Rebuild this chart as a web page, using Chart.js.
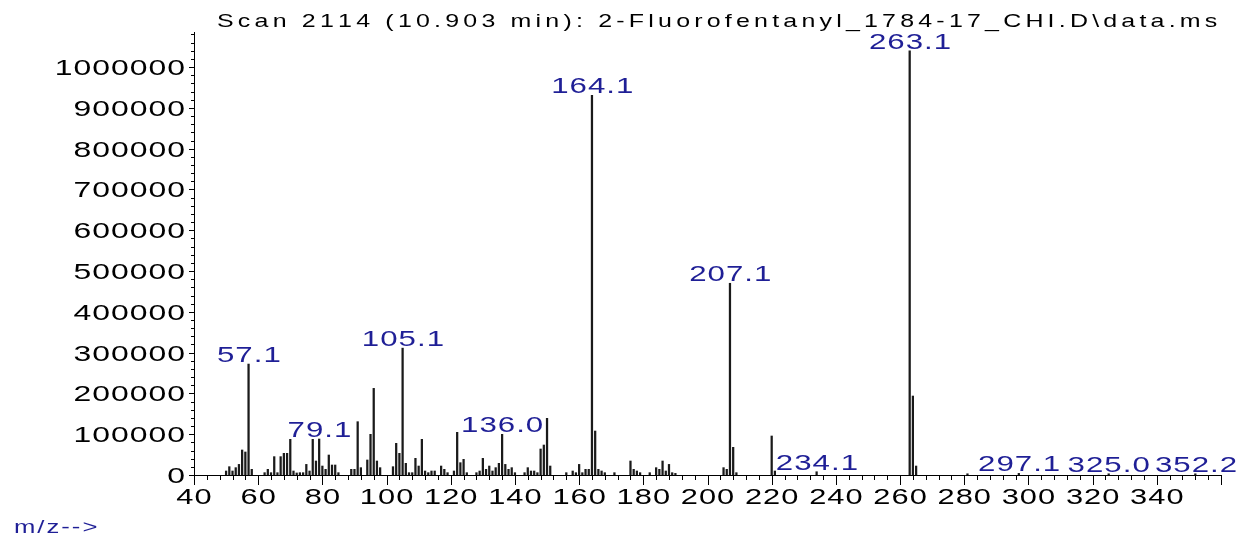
<!DOCTYPE html>
<html>
<head>
<meta charset="utf-8">
<script src="https://cdn.jsdelivr.net/npm/chart.js@4.4.0/dist/chart.umd.min.js"></script>
<style>
  html, body { margin: 0; padding: 0; background: #fff; }
</style>
</head>
<body>
<canvas id="spec" width="1252" height="539"></canvas>
<script>
var title = "Scan 2114 (10.903 min): 2-Fluorofentanyl_1784-17_CHI.D\\data.ms";
var axisTag = "m/z-->";

var mz = [50, 51, 52, 53, 54, 55, 56, 57, 58, 62, 63, 64, 65, 66, 67, 68, 69, 70, 71, 72,
  73, 74, 75, 76, 77, 78, 79, 80, 81, 82, 83, 84, 85, 89, 90, 91, 92, 94, 95, 96,
  97, 98, 102, 103, 104, 105, 106, 107, 108, 109, 110, 111, 112, 113, 114, 115, 117, 118, 119, 121,
  122, 123, 124, 125, 128, 129, 130, 131, 132, 133, 134, 135, 136, 137, 138, 139, 140, 143, 144, 145,
  146, 147, 148, 149, 150, 151, 156, 158, 159, 160, 161, 162, 163, 164, 165, 166, 167, 168, 171, 176,
  177, 178, 179, 182, 184, 185, 186, 187, 188, 189, 190, 205, 206, 207, 208, 209, 220, 221, 234, 263,
  264, 265, 281, 297, 325, 352];

var abundance = [9800, 20400, 9800, 18000, 26000, 61300, 56400, 272000, 13900, 5700, 13900, 5700, 45000, 5700, 45000, 53100, 53100, 87400, 9800, 5000,
  5700, 5700, 26000, 9800, 87400, 34300, 88200, 22000, 13900, 49000, 24500, 24500, 5700, 13900, 13900, 130700, 18000, 36800, 99700, 212400,
  34300, 18000, 20400, 77600, 53100, 311000, 28600, 5700, 5700, 40800, 22000, 87400, 9800, 5700, 9800, 9800, 22000, 13900, 5700, 9800,
  104600, 30200, 38400, 5700, 5700, 9800, 40800, 13900, 22000, 9800, 18000, 28600, 99700, 26000, 13900, 18000, 5700, 5700, 18000, 9800,
  9800, 5700, 63700, 73500, 138900, 22000, 5700, 9800, 5700, 26000, 5700, 13900, 13900, 931000, 107800, 13900, 9800, 5700, 5700, 34300,
  13900, 9800, 5700, 5700, 18000, 13900, 34300, 9800, 26000, 5700, 4000, 18000, 13900, 470000, 67800, 5700, 95600, 9800, 8000, 1040000,
  193600, 22000, 3000, 4000, 3000, 3000];

var peakLabels = ["57.1", "79.1", "105.1", "136.0", "164.1", "207.1", "234.1", "263.1", "297.1", "325.0", "352.2"];
var xTickLabels = [40, 60, 80, 100, 120, 140, 160, 180, 200, 220, 240, 260, 280, 300, 320, 340];
var yTickLabels = [0, 100000, 200000, 300000, 400000, 500000, 600000, 700000, 800000, 900000, 1000000];

var FONT = '"Liberation Sans", Arial, sans-serif';
var BLUE = '#1f1f96';

// draws text char by char, stretched sideways like the old instrument print-out
function wideText(ctx, str, x, y, size, sx, gap, align, color) {
  ctx.font = size + 'px ' + FONT;
  ctx.fillStyle = color;
  ctx.textBaseline = 'alphabetic';
  ctx.textAlign = 'left';
  var ws = [], total = 0;
  for (var i = 0; i < str.length; i++) {
    var w = ctx.measureText(str[i]).width * sx;
    ws.push(w);
    total += w + (i ? gap : 0);
  }
  var cx = x;
  if (align === 'center') cx = x - total / 2;
  if (align === 'right') cx = x - total;
  for (var j = 0; j < str.length; j++) {
    ctx.save();
    ctx.translate(cx, y);
    ctx.scale(sx, 1);
    ctx.fillText(str[j], 0, 0);
    ctx.restore();
    cx += ws[j] + gap;
  }
}

var msAxes = {
  id: 'msAxes',
  afterDraw: function (chart) {
    var ctx = chart.ctx, xs = chart.scales.x, ys = chart.scales.y, a = chart.chartArea;
    ctx.save();
    ctx.strokeStyle = '#000';
    ctx.lineWidth = 1;
    ctx.beginPath();
    ctx.moveTo(a.left + 0.5, a.top);
    ctx.lineTo(a.left + 0.5, a.bottom + 0.5);
    ctx.lineTo(a.right + 1, a.bottom + 0.5);
    ctx.stroke();

    // x ticks: small every 4, long every 20
    ctx.beginPath();
    for (var v = xs.min; v <= xs.max; v += 4) {
      var px = Math.round(xs.getPixelForValue(v)) + 0.5;
      var len = (v % 20 === 0) ? 10 : 5;
      ctx.moveTo(px, a.bottom);
      ctx.lineTo(px, a.bottom + len);
    }
    // y ticks every 20000
    for (var u = 0; u <= ys.max; u += 20000) {
      var py = Math.round(ys.getPixelForValue(u)) + 0.5;
      var l2 = (u % 100000 === 0) ? 5 : 3;
      ctx.moveTo(a.left, py);
      ctx.lineTo(a.left - l2, py);
    }
    ctx.stroke();

    xTickLabels.forEach(function (t) {
      wideText(ctx, String(t), xs.getPixelForValue(t), a.bottom + 29, 22, 1.4, 1, 'center', '#000');
    });
    yTickLabels.forEach(function (t) {
      wideText(ctx, String(t), a.left - 9, ys.getPixelForValue(t) + 8, 22, 1.45, 1, 'right', '#000');
    });

    peakLabels.forEach(function (lab) {
      var m = parseFloat(lab), best = 0;
      for (var k = 1; k < mz.length; k++) {
        if (Math.abs(mz[k] - m) < Math.abs(mz[best] - m)) best = k;
      }
      var top = ys.getPixelForValue(abundance[best]);
      wideText(ctx, lab, xs.getPixelForValue(m), top - 2, 22, 1.42, 1, 'center', BLUE);
    });

    wideText(ctx, title, a.left + 23, 27, 18.5, 1.35, 4.2, 'left', '#000');
    wideText(ctx, axisTag, 14, 533, 19, 1.35, 2, 'left', BLUE);
    ctx.restore();
  }
};

new Chart(document.getElementById('spec'), {
  type: 'bar',
  data: {
    datasets: [{
      data: mz.map(function (m, i) { return { x: m, y: abundance[i] }; }),
      backgroundColor: '#1a1a1a',
      barThickness: 1.6
    }]
  },
  options: {
    responsive: false,
    animation: false,
    devicePixelRatio: 1,
    layout: { padding: { left: 194, right: 31, top: 32, bottom: 64 } },
    plugins: { legend: { display: false }, tooltip: { enabled: false } },
    scales: {
      x: { type: 'linear', min: 40, max: 360, offset: false, display: false },
      y: { min: 0, max: 1086000, display: false }
    }
  },
  plugins: [msAxes]
});
</script>
</body>
</html>
